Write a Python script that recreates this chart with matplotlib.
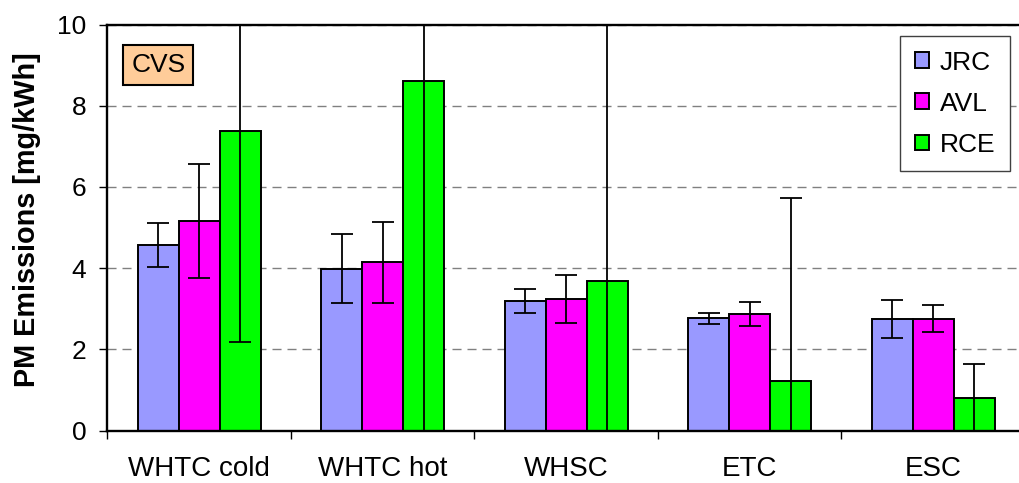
import matplotlib
matplotlib.use("Agg")
import matplotlib.pyplot as plt
import numpy as np

categories = ["WHTC cold", "WHTC hot", "WHSC", "ETC", "ESC"]
series = ["JRC", "AVL", "RCE"]
jrc = [4.57, 3.99, 3.19, 2.76, 2.75]
avl = [5.16, 4.14, 3.24, 2.87, 2.75]
rce = [7.38, 8.62, 3.67, 1.23, 0.79]
jrc_err = [0.54, 0.85, 0.30, 0.14, 0.47]
avl_err = [1.41, 0.99, 0.59, 0.29, 0.33]
rce_err = [5.21, 9.50, 7.00, 4.50, 0.86]
colors = ["#9999FF", "#FF00FF", "#00FF00"]
yticks = [0, 2, 4, 6, 8, 10]

plt.rcParams['font.family'] = ['Liberation Sans', 'DejaVu Sans']

fig = plt.figure(figsize=(10.19, 4.83), dpi=100)
ax = fig.add_axes([107.3 / 1019, 1 - 430.5 / 483, 917.5 / 1019, 406 / 483])

x = np.arange(len(categories))
w = 0.2234
vals = [jrc, avl, rce]
errs = [jrc_err, avl_err, rce_err]
for i, (v, e, c, name) in enumerate(zip(vals, errs, colors, series)):
    pos = x + (i - 1) * w
    ax.bar(pos, v, width=w, color=c, edgecolor="black", linewidth=1.4,
           label=name, zorder=2)
    ax.errorbar(pos, v, yerr=e, fmt="none", ecolor="black", elinewidth=1.3,
                capsize=8, capthick=1.3, zorder=3)

ax.set_xlim(-0.5, len(categories) - 0.5)
ax.set_ylim(0, 10)
ax.set_yticks(yticks)
ax.set_yticklabels([str(t) for t in yticks], fontsize=19)
ax.set_xticks(x)
ax.set_xticklabels(categories, fontsize=20)
ax.set_xticks(np.arange(len(categories) + 1) - 0.5, minor=True)
ax.tick_params(axis="x", which="major", length=0, pad=18.5)
ax.tick_params(axis="x", which="minor", length=6, width=1, direction="out")
ax.tick_params(axis="y", length=6, width=1, direction="out", pad=9)

ax.yaxis.grid(True, linestyle=(0, (6.5, 4.3)), color="#808080", linewidth=1.0)
ax.set_axisbelow(True)
for s in ["left", "bottom", "top"]:
    ax.spines[s].set_linewidth(1.7)
    ax.spines[s].set_color("black")
ax.spines["right"].set_visible(False)

fig.text(27 / 1019, 1 - 220 / 483, "PM Emissions [mg/kWh]", rotation=90,
         ha="center", va="center", fontsize=20.8, fontweight="bold")

fig.text((121.7 + 195) / 2 / 1019, 1 - 65 / 483, "CVS", ha="center", va="center",
         fontsize=19,
         bbox=dict(boxstyle="square,pad=0.3", facecolor="#FFCC99",
                   edgecolor="black", linewidth=1.5))

leg = ax.legend(loc="upper right", bbox_to_anchor=(1010 / 1019, 1 - 36 / 483),
                bbox_transform=fig.transFigure, fontsize=19,
                fancybox=False, edgecolor="#404040", framealpha=1,
                handlelength=0.55, handleheight=0.55, handletextpad=0.4,
                labelspacing=0.65, borderpad=0.55, borderaxespad=0)
leg.get_frame().set_linewidth(1.0)

fig.savefig("out.png", dpi=100)
